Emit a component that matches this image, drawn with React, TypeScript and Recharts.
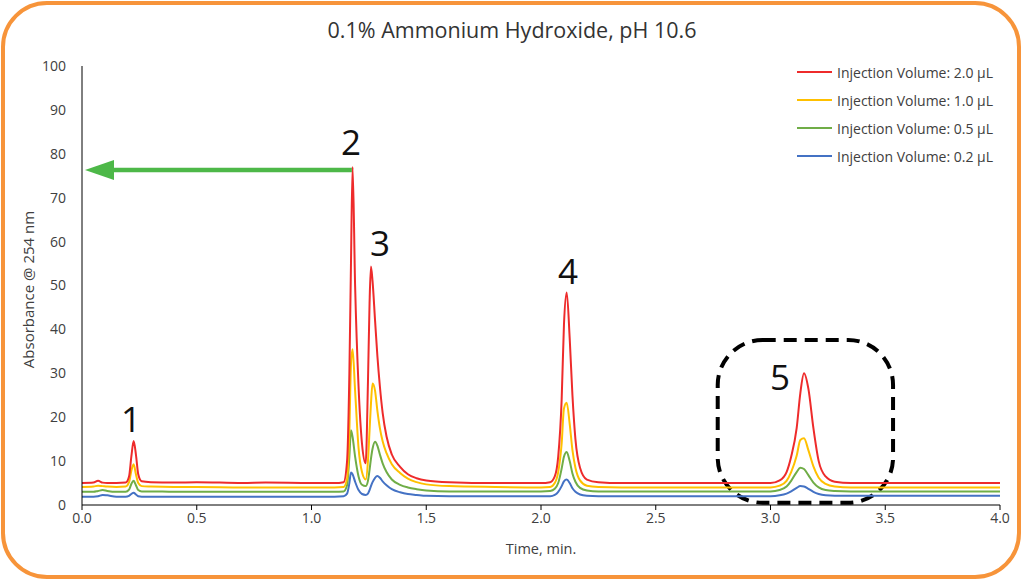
import {
  Legend,
  Line,
  LineChart,
  ReferenceArea,
  ReferenceDot,
  ReferenceLine,
  XAxis,
  YAxis,
} from "recharts";

const FONT = "'Open Sans', 'Noto Sans', sans-serif";
const INK = "#404040";

// retention time, min.
const TIME = [
  0, 0.05, 0.07, 0.09, 0.11, 0.15, 0.19, 0.205, 0.215, 0.225, 0.235, 0.245,
  0.26, 0.3, 0.4, 0.5, 0.7, 0.8, 1.0, 1.1, 1.14, 1.155, 1.165, 1.172, 1.179,
  1.19, 1.205, 1.22, 1.236, 1.246, 1.253, 1.259, 1.266, 1.277, 1.287, 1.298,
  1.31, 1.327, 1.35, 1.386, 1.42, 1.458, 1.5, 1.6, 1.8, 2.0, 2.04, 2.06, 2.075,
  2.09, 2.1, 2.112, 2.125, 2.137, 2.15, 2.17, 2.2, 2.25, 2.35, 2.6, 2.8, 3.0,
  3.04, 3.07, 3.09, 3.114, 3.13, 3.146, 3.165, 3.187, 3.21, 3.24, 3.28, 3.35,
  3.6, 4.0,
];

// absorbance @ 254 nm per injection volume
const VOL_2_0 = [
  5.0, 5.1, 5.5, 5.1, 5.0, 5.0, 5.1,
  6.5, 11.0, 14.6, 11.5, 7.0, 5.4,
  5.2, 5.1, 5.2, 5.0, 5.1, 5.0, 5.0,
  5.2, 10, 30, 55, 77, 50, 27, 14,
  9.5, 28, 46, 54.3, 51, 42, 34, 27,
  21, 15.6, 11.5, 8.7, 7.0, 6.1, 5.6, 5.2, 5.0,
  5.0, 5.2, 6.5, 11, 24, 41, 48.4, 38, 25, 15, 8.5, 5.8, 5.2, 5.0,
  5.0, 5.0,
  5.0, 5.6, 7.5, 11, 17.5, 25.5, 30, 26.5, 17.5, 10, 6.5, 5.3, 5.0, 5.0, 5.0,
];
const VOL_1_0 = [
  4.1, 4.2, 4.4, 4.3, 4.2, 4.1, 4.2,
  5.2, 7.8, 9.3, 7.0, 5.0, 4.3,
  4.2, 4.1, 4.1, 4.0, 4.0, 4.0, 4.0,
  4.1, 6, 17, 32, 35.5, 26, 13, 7.5,
  5.8, 10, 17, 23, 27.7, 26, 21.5, 17.5,
  14.5, 11.8, 9.3, 7.3, 6.0, 5.2, 4.7, 4.3, 4.1,
  4.0, 4.1, 5.0, 7.5, 14, 22, 23.3, 18.5, 12.5, 8.5, 5.6, 4.4, 4.1, 4.0,
  4.0, 4.0,
  4.0, 4.4, 5.5, 7.5, 11.2, 14.8, 15.2, 12.5, 8.8, 6.2, 4.8, 4.2, 4.0, 4.0, 4.0,
];
const VOL_0_5 = [
  3.0, 3.0, 3.2, 3.4, 3.2, 3.0, 3.0,
  3.5, 4.8, 5.5, 4.5, 3.4, 3.1,
  3.1, 3.0, 3.0, 3.0, 3.0, 3.0, 3.0,
  3.1, 4.5, 11, 17, 15.5, 11, 6.5, 4.6,
  4.3, 5.5, 8, 10.5, 12.8, 14.4, 13.5, 11.5,
  9.5, 7.5, 5.8, 4.6, 4.0, 3.6, 3.3, 3.1, 3.1,
  3.1, 3.2, 3.7, 5.0, 8.3, 11, 12.1, 10, 7.2, 5.3, 3.9, 3.3, 3.1, 3.1,
  3.1, 3.1,
  3.1, 3.4, 4.2, 5.5, 7.5, 8.5, 8.2, 6.8, 5.1, 4.0, 3.4, 3.2, 3.1, 3.1, 3.1,
];
const VOL_0_2 = [
  1.9, 1.9, 2.0, 2.3, 2.2, 1.9, 1.9,
  2.1, 2.5, 2.8, 2.4, 2.0, 1.9,
  1.9, 1.9, 1.9, 1.9, 1.9, 1.9, 1.9,
  2.0, 2.6, 5.0, 7.4, 7.0, 5.3, 3.4, 2.5,
  2.3, 2.6, 3.4, 4.3, 5.2, 6.2, 6.6, 6.2,
  5.4, 4.5, 3.6, 2.9, 2.5, 2.3, 2.1, 2.0, 2.0,
  2.0, 2.0, 2.3, 3.0, 4.3, 5.4, 5.8, 5.0, 3.8, 3.0, 2.4, 2.1, 2.0, 2.0,
  2.0, 2.0,
  2.0, 2.2, 2.6, 3.1, 3.9, 4.3, 4.2, 3.7, 3.0, 2.5, 2.2, 2.1, 2.1, 2.1, 2.1,
];

const X_TICKS = [0, 0.5, 1, 1.5, 2, 2.5, 3, 3.5, 4];
const Y_TICKS = [0, 10, 20, 30, 40, 50, 60, 70, 80, 90, 100];

// legend order (top to bottom)
const SERIES = [
  { key: "v20", name: "Injection Volume: 2.0 µL", color: "#EE2B2B" },
  { key: "v10", name: "Injection Volume: 1.0 µL", color: "#FFC000" },
  { key: "v05", name: "Injection Volume: 0.5 µL", color: "#70AD47" },
  { key: "v02", name: "Injection Volume: 0.2 µL", color: "#4472C4" },
];

// peak numbers: [label, time, absorbance]
const PEAK_LABELS: [string, number, number][] = [
  ["1", 0.213, 19.6],
  ["2", 1.172, 82.7],
  ["3", 1.298, 59.9],
  ["4", 2.118, 53.5],
  ["5", 3.041, 29.2],
];

const data = TIME.map((t, i) => ({
  t,
  v20: VOL_2_0[i],
  v10: VOL_1_0[i],
  v05: VOL_0_5[i],
  v02: VOL_0_2[i],
}));

function LegendBox() {
  return (
    <div style={{ fontFamily: FONT, fontSize: 14, color: INK }}>
      {SERIES.map((s) => (
        <div
          key={s.key}
          style={{ display: "flex", alignItems: "center", height: 28 }}
        >
          <span
            style={{
              display: "inline-block",
              width: 35,
              height: 2,
              background: s.color,
              marginRight: 5,
            }}
          />
          {s.name}
        </div>
      ))}
    </div>
  );
}

function Arrow(props: any) {
  const { x1, y1, x2 } = props;
  const tip = Math.min(x1, x2);
  const tail = Math.max(x1, x2);
  return (
    <g>
      <line
        x1={tail}
        y1={y1}
        x2={tip + 26}
        y2={y1}
        stroke="#4DB848"
        strokeWidth={4.5}
      />
      <polygon
        points={`${tip},${y1} ${tip + 29},${y1 - 10} ${tip + 29},${y1 + 10}`}
        fill="#4DB848"
      />
    </g>
  );
}

function DashedBox(props: any) {
  const { x, y, width, height } = props;
  return (
    <rect
      x={x}
      y={y}
      width={width}
      height={height}
      rx={45}
      ry={45}
      fill="none"
      stroke="#000"
      strokeWidth={4}
      strokeDasharray="13 8"
    />
  );
}

function YTitle(props: any) {
  const vb = props.viewBox;
  const cx = 28;
  const cy = vb.y + vb.height / 2 + 4;
  return (
    <text
      x={cx}
      y={cy}
      transform={`rotate(-90, ${cx}, ${cy})`}
      textAnchor="middle"
      dominantBaseline="central"
      fontSize={15}
      fontFamily={FONT}
      fill={INK}
    >
      Absorbance @ 254 nm
    </text>
  );
}

export default function App() {
  const lines = [...SERIES].reverse();
  return (
    <div
      style={{
        position: "absolute",
        left: 0,
        top: 0,
        width: 1024,
        height: 581,
        background: "#fff",
        fontFamily: FONT,
      }}
    >
      <div
        style={{
          position: "absolute",
          left: 1,
          top: 1,
          width: 1020,
          height: 578,
          border: "4px solid #F7943A",
          borderRadius: 46,
          boxSizing: "border-box",
        }}
      />
      <div
        style={{
          position: "absolute",
          left: 0,
          top: 15,
          width: 1024,
          textAlign: "center",
          fontSize: 21.5,
          lineHeight: "30px",
          color: "#333",
        }}
      >
        0.1% Ammonium Hydroxide, pH 10.6
      </div>
      <LineChart
        width={1024}
        height={581}
        data={data}
        margin={{ top: 66, right: 24, left: 0, bottom: 0 }}
        style={{ position: "absolute", left: 0, top: 0 }}
      >
        <XAxis
          dataKey="t"
          type="number"
          domain={[0, 4]}
          ticks={X_TICKS}
          tickFormatter={(v) => Number(v).toFixed(1)}
          height={76}
          tickSize={5}
          tickMargin={3}
          stroke="#000"
          tick={{ fill: INK, fontSize: 14, fontFamily: FONT }}
          label={{
            value: "Time, min.",
            position: "insideTop",
            offset: 39,
            fill: INK,
            fontSize: 14.5,
            fontFamily: FONT,
          }}
        />
        <YAxis
          type="number"
          domain={[0, 100]}
          ticks={Y_TICKS}
          width={82}
          tickLine={false}
          tickMargin={10}
          stroke="#000"
          tick={{ fill: INK, fontSize: 14, fontFamily: FONT }}
          label={<YTitle />}
        />
        <Legend
          layout="vertical"
          align="center"
          verticalAlign="middle"
          content={() => <LegendBox />}
          wrapperStyle={{ position: "absolute", left: 797, top: 58, width: 215 }}
        />
        {lines.map((s) => (
          <Line
            key={s.key}
            dataKey={s.key}
            name={s.name}
            type="monotone"
            stroke={s.color}
            strokeWidth={2}
            dot={false}
            activeDot={false}
            isAnimationActive={false}
          />
        ))}
        <ReferenceLine
          segment={[
            { x: 1.176, y: 76.3 },
            { x: 0.013, y: 76.3 },
          ]}
          shape={Arrow}
        />
        <ReferenceArea
          x1={2.77}
          x2={3.534}
          y1={0.5}
          y2={37.6}
          shape={DashedBox}
        />
        {PEAK_LABELS.map(([label, t, a]) => (
          <ReferenceDot
            key={label}
            x={t}
            y={a}
            r={0}
            shape={(p: any) => (
              <text
                x={p.cx}
                y={p.cy}
                textAnchor="middle"
                dominantBaseline="central"
                fontSize={35}
                fontFamily={FONT}
                fill="#111"
              >
                {label}
              </text>
            )}
          />
        ))}
      </LineChart>
    </div>
  );
}
